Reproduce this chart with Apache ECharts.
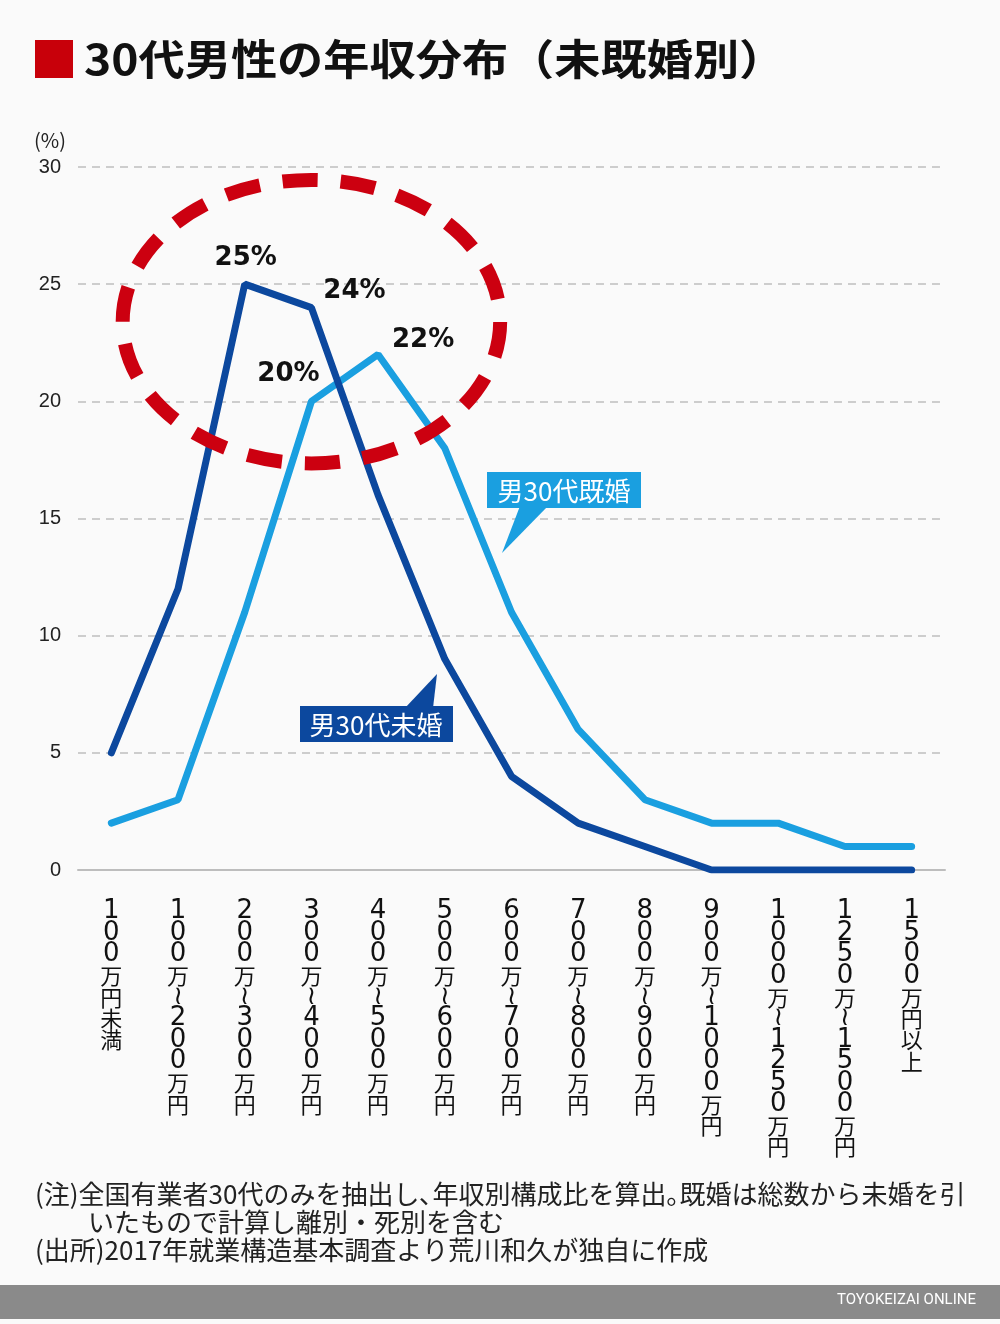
<!DOCTYPE html>
<html><head><meta charset="utf-8">
<script src="https://cdn.jsdelivr.net/npm/echarts@6/dist/echarts.min.js"></script>
<style>html,body{margin:0;padding:0;background:#fafafa}#c{width:1000px;height:1324px}</style>
</head><body><div id="c"></div>
<script>
const categories = ['100万円未満','100万~200万円','200万~300万円','300万~400万円','400万~500万円','500万~600万円','600万~700万円','700万~800万円','800万~900万円','900万~1000万円','1000万~1250万円','1250万~1500万円','1500万円以上'];
const unmarried = [5, 12, 25, 24, 16, 9, 4, 2, 1, 0, 0, 0, 0];
const married = [2, 3, 11, 20, 22, 18, 11, 6, 3, 2, 2, 1, 1];
const yTicks = [0, 5, 10, 15, 20, 25, 30];
const unmarriedLabels = {2: [1, -26], 3: [43, -16]};
const marriedLabels = {3: [-23, -27], 4: [45, -14]};

const FONT = '"Noto Sans CJK JP", "Noto Sans", sans-serif';
const chart = echarts.init(document.getElementById('c'));

function buildData(vals, lbls) {
  return vals.map((v, i) => {
    if (lbls[i]) {
      return {value: v, label: {show: true, position: 'inside', offset: lbls[i],
        formatter: '{c}%', color: '#111', fontSize: 26, fontWeight: 'bold', fontFamily: '"DejaVu Sans", sans-serif'}};
    }
    return {value: v, label: {show: false}};
  });
}

const vertical = s => s.split('').map(ch => {
  if (ch === '~') return '{d|≀}';
  if (/[0-9]/.test(ch)) return '{d|' + ch + '}';
  return '{k|' + ch + '}';
}).join('\n');

chart.setOption({
  backgroundColor: '#fafafa',
  animation: false,
  grid: {left: 78, right: 55, top: 167, bottom: 454},
  xAxis: {
    type: 'category', data: categories, boundaryGap: true,
    axisLine: {lineStyle: {color: '#bdbdbd', width: 2}},
    axisTick: {alignWithLabel: true, length: 14, lineStyle: {color: '#bdbdbd', width: 2}},
    axisLabel: {interval: 0, formatter: vertical, verticalAlign: 'top', margin: 31,
      rich: {
        d: {fontSize: 26, lineHeight: 21.4, color: '#111', fontFamily: '"DejaVu Sans", sans-serif', align: 'center'},
        k: {fontSize: 22, lineHeight: 21.4, color: '#111', fontFamily: FONT, align: 'center'}
      }}
  },
  yAxis: {
    type: 'value', min: yTicks[0], max: yTicks[yTicks.length - 1], interval: 5,
    axisLine: {show: false}, axisTick: {show: false},
    axisLabel: {fontSize: 20, color: '#222', margin: 17, fontFamily: 'Liberation Sans, Arial, sans-serif'},
    splitLine: {lineStyle: {color: '#bfbfbf', type: [8, 6], width: 1.5}}
  },
  series: [
    {name: '男30代既婚', type: 'line', data: buildData(married, marriedLabels), symbol: 'circle', symbolSize: 1, showSymbol: true,
      itemStyle: {color: '#1a9fe0'}, lineStyle: {color: '#1a9fe0', width: 7, cap: 'round'}, z: 2, silent: true},
    {name: '男30代未婚', type: 'line', data: buildData(unmarried, unmarriedLabels), symbol: 'circle', symbolSize: 1, showSymbol: true,
      itemStyle: {color: '#0c489e'}, lineStyle: {color: '#0c489e', width: 7, cap: 'round'}, z: 3, silent: true}
  ]
});

function pt(x, y) { return chart.convertToPixel({gridIndex: 0}, [x, y]); }
const c = pt(3, 23.4);
const unitY = pt(0, 0)[1] - pt(0, 1)[1];
const unitX = pt(1, 0)[0] - pt(0, 0)[0];

chart.setOption({
  graphic: [
    {type: 'rect', left: 35, top: 40, shape: {width: 38, height: 38}, style: {fill: '#c8000a'}},
    {type: 'text', x: 84, y: 38, scaleX: 1.1, style: {text: '30代男性の年収分布（未既婚別）', font: 'bold 42px ' + FONT, fill: '#111'}},
    {type: 'text', left: 34, top: 130, style: {text: '(%)', font: '20px ' + FONT, fill: '#222'}},
    {type: 'ellipse', shape: {cx: c[0], cy: c[1], rx: unitX * 2.83, ry: unitY * 6.05},
      style: {fill: 'none', stroke: '#cc0010', lineWidth: 14, lineDash: [35, 23]}, z: 10},
    // callout married
    {type: 'polygon', shape: {points: [[520, 506], [548, 506], [502, 553]]}, style: {fill: '#1a9fe0'}, z: 20},
    {type: 'rect', shape: {x: 487, y: 472, width: 154, height: 36}, style: {fill: '#1a9fe0'}, z: 20},
    {type: 'text', x: 564, y: 491, style: {text: '男30代既婚', font: '26px ' + FONT, fill: '#fff', align: 'center', verticalAlign: 'middle'}, z: 21},
    // callout unmarried
    {type: 'polygon', shape: {points: [[405, 708], [433, 708], [437, 674]]}, style: {fill: '#0c489e'}, z: 20},
    {type: 'rect', shape: {x: 300, y: 706, width: 153, height: 36}, style: {fill: '#0c489e'}, z: 20},
    {type: 'text', x: 376, y: 725, style: {text: '男30代未婚', font: '26px ' + FONT, fill: '#fff', align: 'center', verticalAlign: 'middle'}, z: 21},
    // notes
    {type: 'text', left: 35, top: 1181, style: {text: '(注)全国有業者30代のみを抽出し､年収別構成比を算出｡既婚は総数から未婚を引', font: '26px ' + FONT, fill: '#222'}},
    {type: 'text', left: 88, top: 1209, style: {text: 'いたもので計算し離別・死別を含む', font: '26px ' + FONT, fill: '#222'}},
    {type: 'text', left: 35, top: 1237, style: {text: '(出所)2017年就業構造基本調査より荒川和久が独自に作成', font: '26px ' + FONT, fill: '#222'}},
    {type: 'rect', shape: {x: 0, y: 1285, width: 1000, height: 34}, style: {fill: '#8a8a8a'}},
    {type: 'text', right: 24, top: 1293, style: {text: 'TOYOKEIZAI ONLINE', font: '15px Roboto, sans-serif', fill: '#fff'}}
  ]
});
</script></body></html>
